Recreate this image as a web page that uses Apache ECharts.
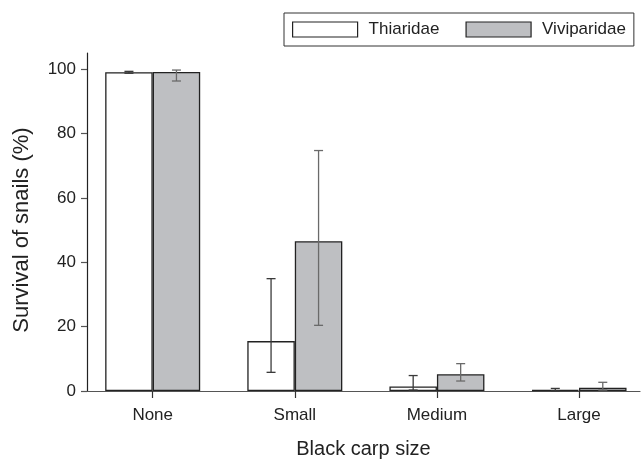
<!DOCTYPE html>
<html>
<head>
<meta charset="utf-8">
<script src="https://cdn.jsdelivr.net/npm/echarts@6/dist/echarts.min.js"></script>
<style>html,body{margin:0;padding:0;background:#fff}#c{width:641px;height:464px}</style>
</head>
<body>
<div id="c"></div>
<script>
const categories = ['None', 'Small', 'Medium', 'Large'];
const seriesNames = ['Thiaridae', 'Viviparidae'];
const thiaridaeMean = [99.0, 15.5, 1.4, 0.3];
const thiaridaeLow  = [98.7, 5.8, 0.3, 0.0];
const thiaridaeHigh = [99.3, 34.9, 4.8, 0.8];
const viviparidaeMean = [99.1, 46.5, 5.2, 1.0];
const viviparidaeLow  = [96.3, 20.4, 3.1, 0.3];
const viviparidaeHigh = [99.7, 74.7, 8.5, 2.7];
const yTicks = [0, 20, 40, 60, 80, 100];
const xPositions = [1, 2, 3, 4];

const BAR_W = 47.5;
const font = '"Liberation Sans", Arial, sans-serif';

function barData(vals) { return vals.map((v, i) => [xPositions[i], v]); }
function errData(lo, hi) { return lo.map((l, i) => [xPositions[i], l, hi[i]]); }
function errRender(sign, color) {
  return function (params, api) {
    const x = api.value(0);
    const lo = api.coord([x, api.value(1)]);
    const hi = api.coord([x, api.value(2)]);
    const cx = lo[0] + sign * BAR_W / 2;
    const cap = 4.5;
    const style = { stroke: color, lineWidth: 1.3, fill: null };
    return {
      type: 'group',
      children: [
        { type: 'line', shape: { x1: cx, y1: lo[1], x2: cx, y2: hi[1] }, style },
        { type: 'line', shape: { x1: cx - cap, y1: lo[1], x2: cx + cap, y2: lo[1] }, style },
        { type: 'line', shape: { x1: cx - cap, y1: hi[1], x2: cx + cap, y2: hi[1] }, style }
      ]
    };
  };
}

const chart = echarts.init(document.getElementById('c'), null, { renderer: 'canvas' });
chart.setOption({
  animation: false,
  textStyle: { fontFamily: font },
  grid: { left: 87, right: 1, top: 53, bottom: 71, containLabel: false },
  legend: {
    left: 284, top: 13,
    padding: [8, 8, 8, 8],
    borderColor: '#333', borderWidth: 1,
    itemWidth: 65, itemHeight: 15, itemGap: 26,
    icon: 'rect',
    textStyle: { fontSize: 17, color: '#222', fontFamily: font, padding: [0, 0, 0, 6] },
    data: [
      { name: seriesNames[0], itemStyle: { color: '#ffffff', borderColor: '#222', borderWidth: 1.2 } },
      { name: seriesNames[1], itemStyle: { color: '#bebfc2', borderColor: '#222', borderWidth: 1.2 } }
    ]
  },
  xAxis: {
    type: 'value', min: 0.5377, max: 4.429,
    name: 'Black carp size', nameLocation: 'middle', nameGap: 48,
    nameTextStyle: { fontSize: 20, color: '#222', fontFamily: font },
    axisLine: { show: true, onZero: false, lineStyle: { color: '#555', width: 1.2 } },
    axisTick: { show: true, inside: false, length: 7, customValues: xPositions, lineStyle: { color: '#333', width: 1.2 } },
    axisLabel: { customValues: xPositions, margin: 16, fontSize: 17, color: '#222', fontFamily: font,
      formatter: v => categories[Math.round(v) - 1] || '' },
    splitLine: { show: false }
  },
  yAxis: {
    type: 'value', min: 0, max: 105,
    name: 'Survival of snails (%)', nameLocation: 'middle', nameGap: 54,
    nameTextStyle: { fontSize: 22, color: '#222', fontFamily: font, padding: [0, 16, 0, 0] },
    axisLine: { show: true, lineStyle: { color: '#222', width: 1.2 } },
    axisTick: { show: true, inside: false, length: 6, customValues: yTicks, lineStyle: { color: '#555', width: 1.2 } },
    axisLabel: { customValues: yTicks, margin: 11, fontSize: 17, color: '#222', fontFamily: font },
    splitLine: { show: false }
  },
  series: [
    { name: seriesNames[0], type: 'bar', barWidth: BAR_W, barGap: '0%', data: barData(thiaridaeMean),
      itemStyle: { color: '#ffffff', borderColor: '#222', borderWidth: 1.3 } },
    { name: seriesNames[1], type: 'bar', barWidth: BAR_W, barGap: '0%', data: barData(viviparidaeMean),
      itemStyle: { color: '#bebfc2', borderColor: '#222', borderWidth: 1.3 } },
    { type: 'custom', name: 'errT', data: errData(thiaridaeLow, thiaridaeHigh), z: 5,
      renderItem: errRender(-1, '#3a3a3a'), encode: { x: 0, y: [1, 2] } },
    { type: 'custom', name: 'errV', data: errData(viviparidaeLow, viviparidaeHigh), z: 5,
      renderItem: errRender(1, '#6a6a6a'), encode: { x: 0, y: [1, 2] } }
  ]
});
</script>
</body>
</html>
